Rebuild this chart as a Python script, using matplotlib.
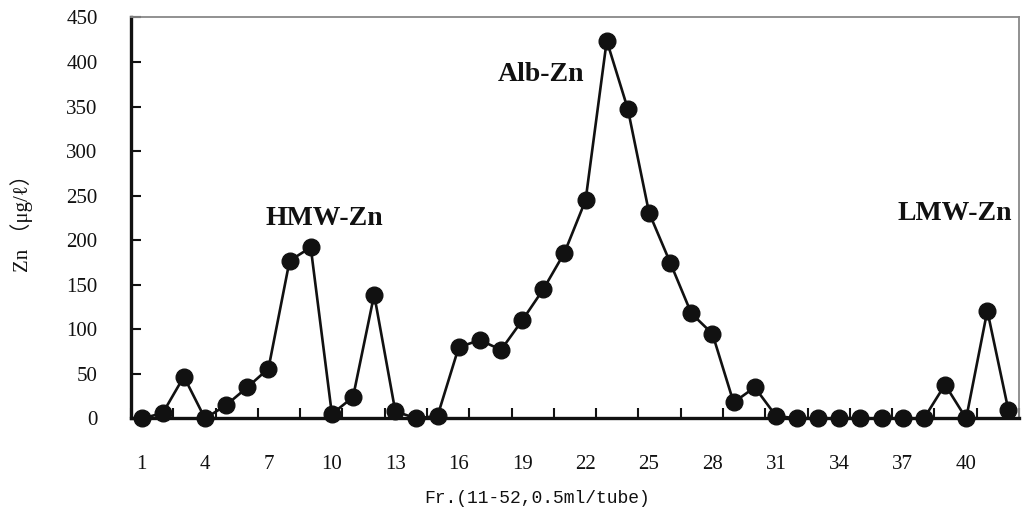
import numpy as np
import matplotlib
matplotlib.use("Agg")
import matplotlib.pyplot as plt
from matplotlib.ticker import FixedLocator

# fraction number and zinc content of each tube
fraction = list(range(1, 43))
zinc = [0, 6, 47, 0, 15, 35, 56, 177, 192, 5,
        24, 139, 8, 0, 3, 80, 88, 77, 110, 145,
        186, 245, 424, 347, 231, 175, 118, 95, 18, 35,
        3, 0, 0, 0, 0, 0, 0, 0, 38, 0,
        121, 9]

xtick_labels = list(range(1, 41, 3))
yticks = list(range(0, 451, 50))

# peak names and where they sit
peak_names = ["HMW-Zn", "Alb-Zn", "LMW-Zn"]
peak_x = [9.66, 19.9, 39.45]
peak_y = [217, 379, 223]

serif = ["Liberation Serif", "DejaVu Serif", "Noto Sans CJK SC"]

fig = plt.figure(figsize=(10.22, 5.15), dpi=100)
ax = fig.add_axes([0.1282, 0.1874, 0.8689, 0.7787])

ax.plot(fraction, zinc, color="#111111", lw=1.9, marker="o", ms=12,
        mfc="#111111", mec="#111111", zorder=3, clip_on=False)

ax.set_xlim(0.5, 42.5)
ax.set_ylim(0, 450)

ax.set_yticks(yticks)
ax.set_yticklabels([str(v) for v in yticks], family=serif, fontsize=15)
ax.set_xticks(xtick_labels)
ax.set_xticklabels([str(v) for v in xtick_labels], family=serif, fontsize=15)
ax.xaxis.set_minor_locator(FixedLocator(np.arange(0.5, 43, 2)))

ax.tick_params(axis="y", direction="in", length=7, width=1.5, pad=24, colors="#111111")
ax.tick_params(axis="x", which="major", length=0, pad=26, colors="#111111")
ax.tick_params(axis="x", which="minor", direction="in", length=7, width=1.5, color="#111111")

for side in ["left", "bottom"]:
    ax.spines[side].set_linewidth(2.4)
    ax.spines[side].set_color("#111111")
for side in ["top", "right"]:
    ax.spines[side].set_linewidth(1.3)
    ax.spines[side].set_color("#888888")

for name, px, py in zip(peak_names, peak_x, peak_y):
    ax.text(px, py, name, ha="center", va="baseline", fontsize=20,
            fontweight="bold", family=serif, color="#111111")

ax.set_xlabel("Fr.(11-52,0.5ml/tube)", family=["Liberation Mono", "DejaVu Sans Mono"],
              fontsize=13, color="#111111")
ax.xaxis.set_label_coords(0.457, -0.2)
ax.xaxis.label.set_va("center")

ax.set_ylabel("Zn （μg/ℓ）", family=serif, fontsize=15, color="#111111")
ax.yaxis.set_label_coords(-0.123, 0.5)
ax.yaxis.label.set_va("center")

fig.savefig("out.png", dpi=100)
